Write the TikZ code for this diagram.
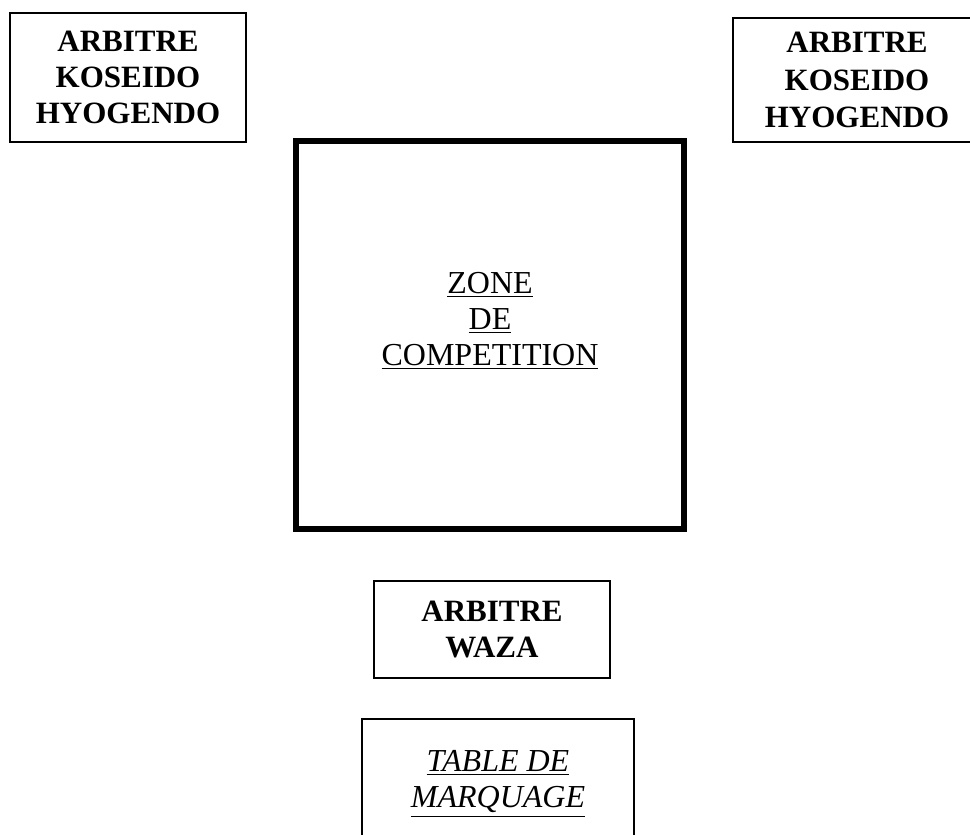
\documentclass[tikz,border=0pt]{standalone}
\usepackage{fontspec}
\setmainfont{Liberation Serif}
\tikzset{
  judgebox/.style = {draw=black, line width=0.8pt, align=center, inner sep=0pt,
    font=\fontsize{15.5}{18}\selectfont\bfseries},
  zonebox/.style = {draw=black, line width=3pt, minimum width=194pt, minimum height=194pt, inner sep=0pt},
  zonetext/.style = {align=center, inner sep=0pt, font=\fontsize{16}{18}\selectfont},
  marktext/.style = {align=center, inner sep=0pt, font=\fontsize{16}{18}\selectfont\itshape},
}
\begin{document}
\begin{tikzpicture}[x=0.5pt,y=-0.5pt]
    \path[use as bounding box, clip] (0,0) rectangle (970,835);

    \node[judgebox, minimum width=118pt, minimum height=64.5pt] (kl) at (128,77.5) {ARBITRE\\KOSEIDO\\HYOGENDO};
    \node[judgebox, minimum width=124pt, minimum height=62pt, font=\fontsize{15.5}{18.7}\selectfont\bfseries] (kr) at (857,80) {ARBITRE\\KOSEIDO\\HYOGENDO};

    \node[zonebox] (zone) at (490,335) {};
    \node[zonetext] (zonetxt) at (490,321) {\underline{ZONE}\\\underline{DE}\\\underline{COMPETITION}};

    \node[judgebox, minimum width=118pt, minimum height=48.5pt] (waza) at (492,629.5) {ARBITRE\\WAZA};

    \node[judgebox, minimum width=136pt, minimum height=70.5pt] (marq) at (498,789.5) {};
    \node[marktext] (marqtxt) at (498,784) {\underline{TABLE DE}\\\underline{MARQUAGE}};
\end{tikzpicture}
\end{document}
